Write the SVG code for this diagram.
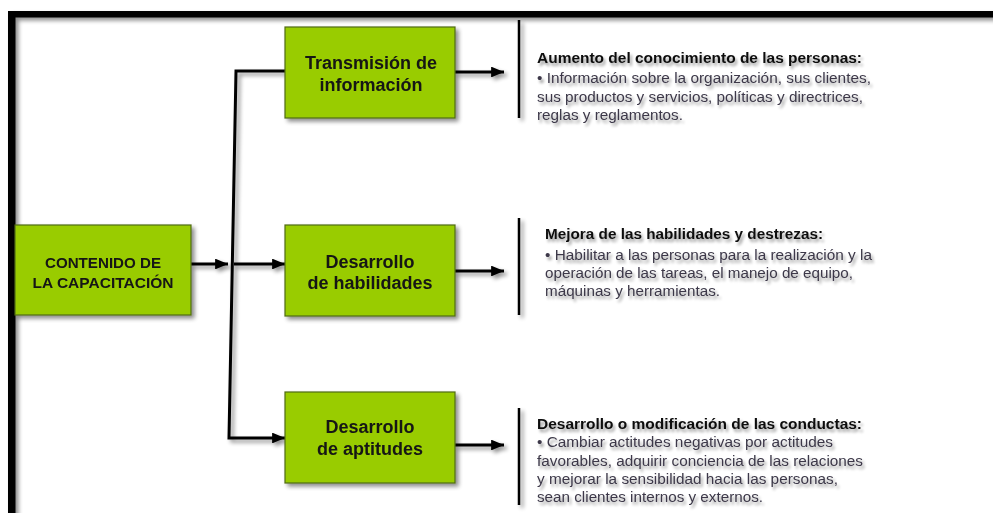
<svg xmlns="http://www.w3.org/2000/svg" width="993" height="513" viewBox="0 0 993 513">
<defs>
<filter id="sh" x="-20%" y="-20%" width="150%" height="150%">
<feGaussianBlur in="SourceAlpha" stdDeviation="2"/>
<feOffset dx="3" dy="3" result="b"/>
<feComponentTransfer><feFuncA type="linear" slope="0.45"/></feComponentTransfer>
<feMerge><feMergeNode/><feMergeNode in="SourceGraphic"/></feMerge>
</filter>
<filter id="tsh" x="-5%" y="-30%" width="110%" height="180%">
<feGaussianBlur in="SourceAlpha" stdDeviation="1.6"/>
<feOffset dx="2" dy="3" result="b"/>
<feComponentTransfer><feFuncA type="linear" slope="0.4"/></feComponentTransfer>
<feMerge><feMergeNode/><feMergeNode in="SourceGraphic"/></feMerge>
</filter>
<marker id="ah" viewBox="0 0 10 10" refX="10" refY="5" markerWidth="4.3" markerHeight="3.6" orient="auto" markerUnits="strokeWidth" preserveAspectRatio="none">
<path d="M0,0 L10,5 L0,10 Z" fill="#000"/>
</marker>
</defs>
<style>
.box{fill:#99cc00;stroke:#4f6b10;stroke-width:1.2}
.bt{font-family:"Liberation Sans",Arial,sans-serif;font-weight:bold;font-size:18px;fill:#141414;text-anchor:middle}
.bt2{font-family:"Liberation Sans",Arial,sans-serif;font-weight:bold;font-size:14px;fill:#141414;text-anchor:middle}
.con{fill:none;stroke:#000;stroke-width:3}
.sep{stroke:#000;stroke-width:2.5}
.hd{font-family:"Liberation Sans",Arial,sans-serif;font-weight:bold;font-size:14.5px;fill:#111}
.tx{font-family:"Liberation Sans",Arial,sans-serif;font-size:14px;fill:#3c3848}
</style>
<rect width="993" height="513" fill="#fff"/>
<g id="frame" filter="url(#sh)">
<rect x="8" y="11" width="990" height="6.5" fill="#000"/>
<rect x="8" y="11" width="7.5" height="510" fill="#000"/>
</g>
<g id="connectors" filter="url(#sh)">
<line class="con" x1="191" y1="264" x2="228" y2="264" marker-end="url(#ah)"/>
<path class="con" d="M285,71 L236,71 L229,438 L285,438" marker-end="url(#ah)"/>
<line class="con" x1="234" y1="264" x2="285" y2="264" marker-end="url(#ah)"/>
<line class="con" x1="455" y1="72" x2="504" y2="72" marker-end="url(#ah)"/>
<line class="con" x1="455" y1="271" x2="504" y2="271" marker-end="url(#ah)"/>
<line class="con" x1="455" y1="445" x2="504" y2="445" marker-end="url(#ah)"/>
<line class="sep" x1="519" y1="20" x2="519" y2="118"/>
<line class="sep" x1="519" y1="218" x2="519" y2="315"/>
<line class="sep" x1="519" y1="408" x2="519" y2="505"/>
</g>
<g id="contenido" filter="url(#sh)">
<rect class="box" x="15" y="225" width="176" height="90"/>
<text class="bt2" x="103" y="268" textLength="116" lengthAdjust="spacingAndGlyphs">CONTENIDO DE</text>
<text class="bt2" x="103" y="288" textLength="141" lengthAdjust="spacingAndGlyphs">LA CAPACITACIÓN</text>
</g>
<g id="transmision" filter="url(#sh)">
<rect class="box" x="285" y="27" width="170" height="91"/>
<text class="bt" x="371" y="69">Transmisión de</text>
<text class="bt" x="371" y="91">información</text>
</g>
<g id="habilidades" filter="url(#sh)">
<rect class="box" x="285" y="225" width="170" height="91"/>
<text class="bt" x="370" y="268">Desarrollo</text>
<text class="bt" x="370" y="289">de habilidades</text>
</g>
<g id="aptitudes" filter="url(#sh)">
<rect class="box" x="285" y="392" width="170" height="91"/>
<text class="bt" x="370" y="433">Desarrollo</text>
<text class="bt" x="370" y="455">de aptitudes</text>
</g>
<g id="texto1" filter="url(#tsh)">
<text class="hd" x="537" y="63" textLength="325" lengthAdjust="spacingAndGlyphs">Aumento del conocimiento de las personas:</text>
<text class="tx" x="537" y="83" textLength="334" lengthAdjust="spacingAndGlyphs">• Información sobre la organización, sus clientes,</text>
<text class="tx" x="537" y="102" textLength="326" lengthAdjust="spacingAndGlyphs">sus productos y  servicios, políticas y  directrices,</text>
<text class="tx" x="537" y="120" textLength="146" lengthAdjust="spacingAndGlyphs">reglas y  reglamentos.</text>
</g>
<g id="texto2" filter="url(#tsh)">
<text class="hd" x="545" y="239" textLength="278" lengthAdjust="spacingAndGlyphs">Mejora de las habilidades y destrezas:</text>
<text class="tx" x="545" y="260" textLength="327" lengthAdjust="spacingAndGlyphs">• Habilitar a las personas para la realización y la</text>
<text class="tx" x="545" y="278" textLength="308" lengthAdjust="spacingAndGlyphs">operación de las tareas, el manejo de equipo,</text>
<text class="tx" x="545" y="296" textLength="175" lengthAdjust="spacingAndGlyphs">máquinas y  herramientas.</text>
</g>
<g id="texto3" filter="url(#tsh)">
<text class="hd" x="537" y="429" textLength="325" lengthAdjust="spacingAndGlyphs">Desarrollo o modificación de las conductas:</text>
<text class="tx" x="537" y="447" textLength="296" lengthAdjust="spacingAndGlyphs">• Cambiar actitudes negativas por actitudes</text>
<text class="tx" x="537" y="466" textLength="326" lengthAdjust="spacingAndGlyphs">favorables, adquirir conciencia de las relaciones</text>
<text class="tx" x="537" y="484" textLength="301" lengthAdjust="spacingAndGlyphs">y  mejorar la sensibilidad hacia las personas,</text>
<text class="tx" x="537" y="502" textLength="226" lengthAdjust="spacingAndGlyphs">sean clientes internos y  externos.</text>
</g>
</svg>
